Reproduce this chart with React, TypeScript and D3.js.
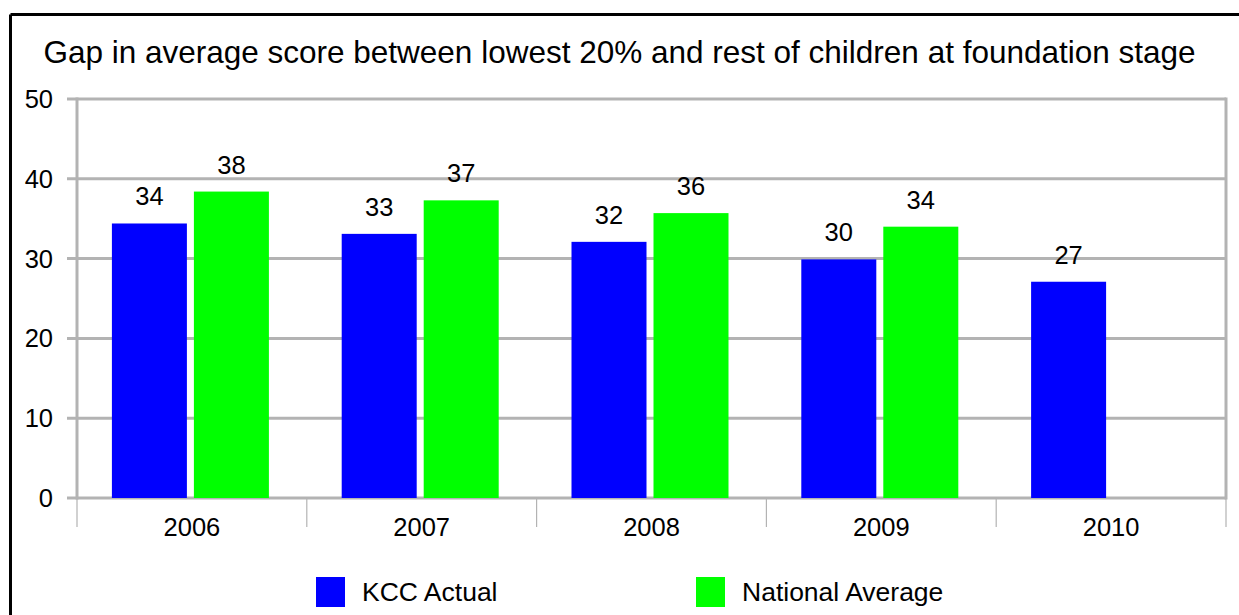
import React from "react";
import * as d3 from "d3";

const categories = ["2006", "2007", "2008", "2009", "2010"];
const kccActual = [34.4, 33.1, 32.1, 29.9, 27.1];
const nationalAverage: (number | null)[] = [38.4, 37.3, 35.7, 34.0, null];
const yTicks = [0, 10, 20, 30, 40, 50];
const seriesNames = ["KCC Actual", "National Average"];
const colors = ["#0000ff", "#00ff00"];
const title = "Gap in average score between lowest 20% and rest of children at foundation stage";

export default function App() {
  const W = 1239, H = 615;
  const left = 77, right = 1226, top = 99, bottom = 498;
  const x = d3.scaleBand<string>().domain(categories).range([left, right]).paddingInner(0).paddingOuter(0);
  const y = d3.scaleLinear().domain([0, 50]).range([bottom, top]);
  const fmt = d3.format(".0f");
  const barW = 75, gap = 7;
  const font = "'Liberation Sans', Arial, sans-serif";
  const grid = "#b3b3b3";
  const series = [kccActual, nationalAverage];

  return (
    <svg width={W} height={H} style={{ position: "absolute", left: 0, top: 0 }} fontFamily={font}>
      <rect x={0} y={0} width={W} height={H} fill="#fff" />
      <line x1={10.5} y1={14.5} x2={W} y2={14.5} stroke="#000" strokeWidth={3} />
      <line x1={10.5} y1={14.5} x2={10.5} y2={H} stroke="#000" strokeWidth={3} />
      <text x={619.5} y={63} textAnchor="middle" fontSize={31.5} fill="#000">{title}</text>
      {yTicks.map((t) => (
        <g key={t}>
          <line x1={67} x2={right} y1={y(t)} y2={y(t)} stroke={grid} strokeWidth={3} />
          <text x={53} y={y(t) + 9} textAnchor="end" fontSize={25.5} fill="#000">{t}</text>
        </g>
      ))}
      <line x1={left} x2={left} y1={top - 1.5} y2={bottom + 1.5} stroke={grid} strokeWidth={3} />
      <line x1={right} x2={right} y1={top - 1.5} y2={bottom + 1.5} stroke={grid} strokeWidth={3} />
      {[...categories.map((c) => x(c)!), right].map((v, i) => (
        <line key={i} x1={v} x2={v} y1={bottom} y2={527} stroke={grid} strokeWidth={1.2} />
      ))}
      {categories.map((c, i) => {
        const cx = x(c)! + x.bandwidth() / 2 - 1.5;
        return (
          <g key={c}>
            {series.map((s, si) => {
              const v = s[i];
              if (v == null) return null;
              const bx = cx - barW - gap / 2 + si * (barW + gap);
              return (
                <g key={si}>
                  <rect x={bx} y={y(v)} width={barW} height={bottom - y(v)} fill={colors[si]} />
                  <text x={bx + barW / 2} y={y(v) - 18} textAnchor="middle" fontSize={25.5} fill="#000">{fmt(v)}</text>
                </g>
              );
            })}
            <text x={x(c)! + x.bandwidth() / 2} y={536} textAnchor="middle" fontSize={25.5} fill="#000">{c}</text>
          </g>
        );
      })}
      {seriesNames.map((n, i) => {
        const lx = [316, 696][i];
        return (
          <g key={n}>
            <rect x={lx} y={577} width={29} height={30} fill={colors[i]} />
            <text x={lx + 46} y={601} fontSize={26.5} fill="#000">{n}</text>
          </g>
        );
      })}
    </svg>
  );
}
